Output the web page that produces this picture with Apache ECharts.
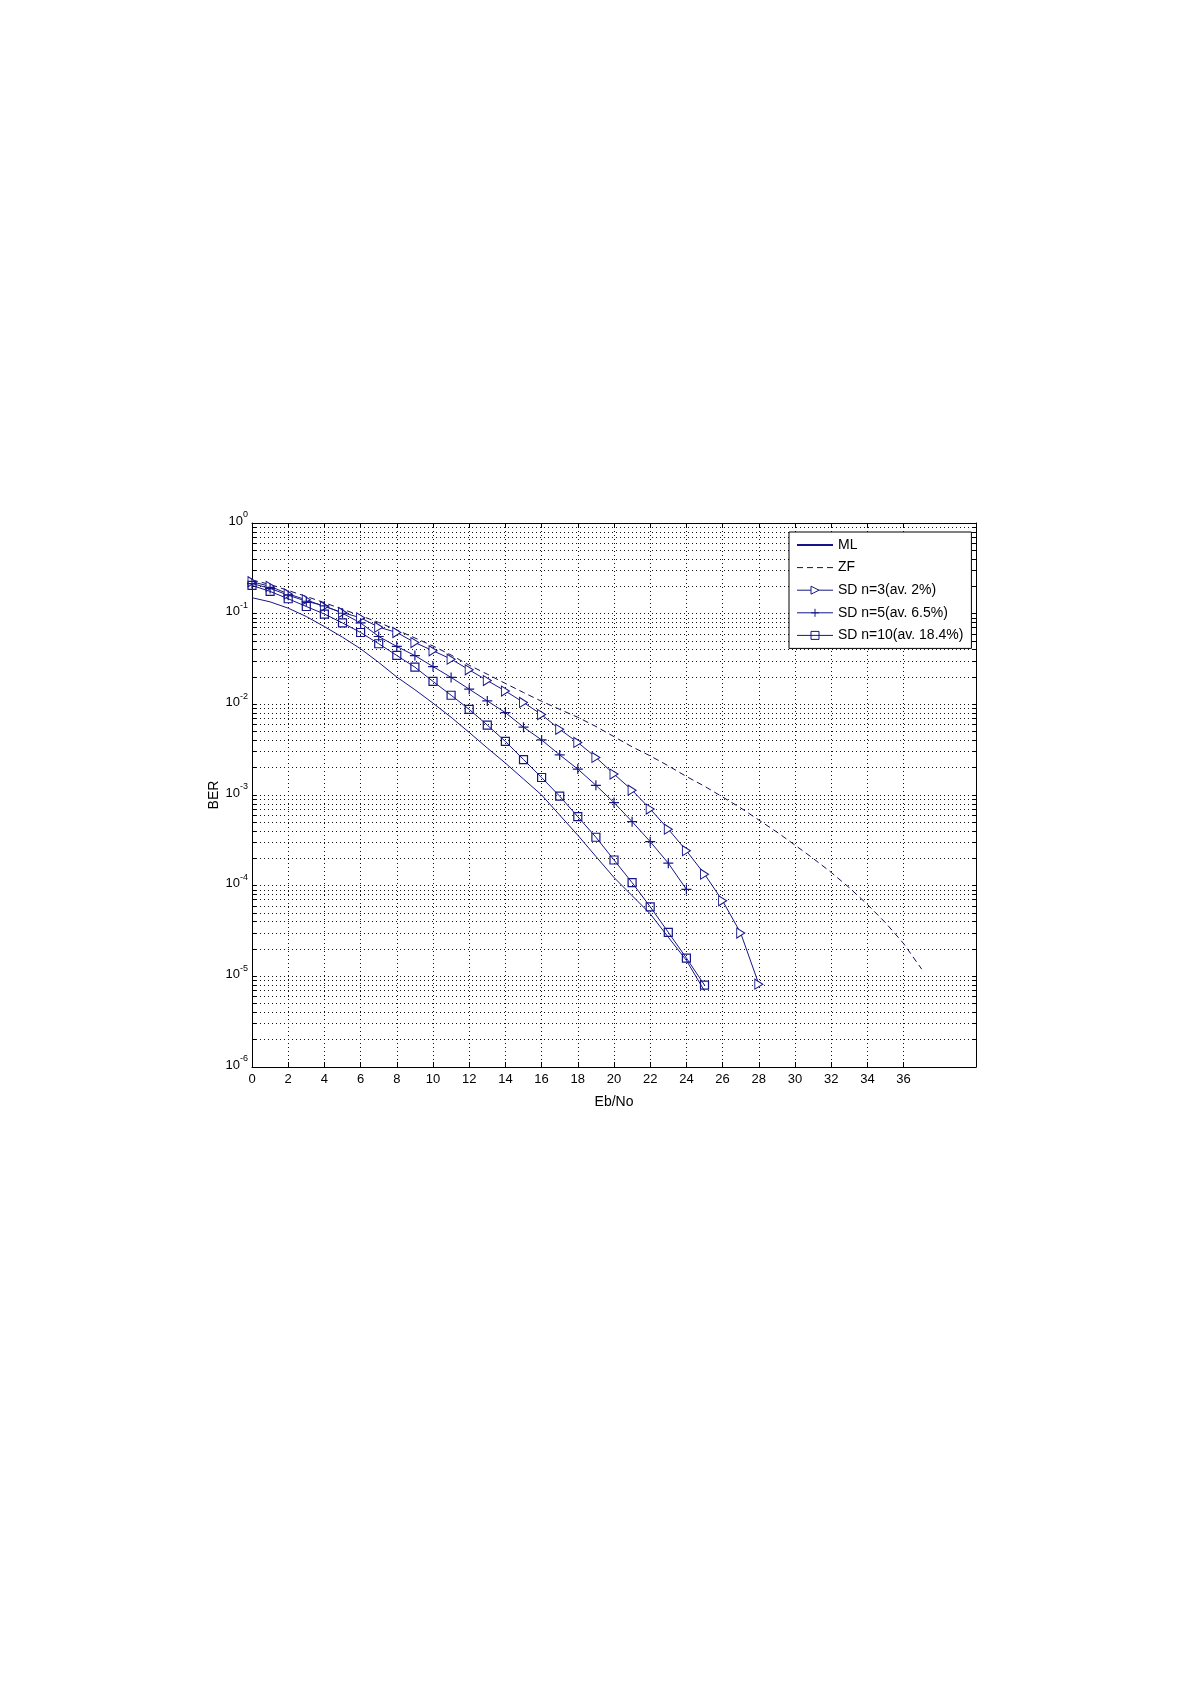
<!DOCTYPE html>
<html lang="en">
<head>
<meta charset="UTF-8" />
<title>BER vs Eb/No</title>
<script src="https://cdn.jsdelivr.net/npm/echarts@6.0.0/dist/echarts.min.js"></script>
<style>
  html, body { margin: 0; padding: 0; background: #fff; }
  #ber { width: 1191px; height: 1685px; }
</style>
</head>
<body>
<div id="ber"></div>
<script>
  // Eb/No points (dB)
  var ebno = [0, 1, 2, 3, 4, 5, 6, 7, 8, 9, 10, 11, 12, 13, 14, 15, 16, 17, 18, 19,
    20, 21, 22, 23, 24, 25, 26, 27, 28, 29, 30, 31, 32, 33, 34, 35, 36, 37];

  // BER
  var berML = [0.150, 0.135, 0.115, 0.093, 0.072, 0.055, 0.041, 0.029, 0.020, 0.0145,
    0.0103, 0.0072, 0.0049, 0.0033, 0.00225, 0.0015, 0.0010, 0.00060, 0.00036, 0.00021,
    0.000123, 0.0000776, 0.000049, 0.000027, 0.000015, 0.0000069];
  var berZF = [0.235, 0.21, 0.18, 0.155, 0.132, 0.112, 0.095, 0.08, 0.066, 0.054,
    0.044, 0.035, 0.027, 0.0215, 0.017, 0.0135, 0.0108, 0.0088, 0.0072, 0.0057,
    0.0044, 0.0034, 0.0027, 0.0021, 0.0016, 0.00125, 0.00095, 0.00072, 0.00053, 0.00039,
    0.00028, 0.0002, 0.00014, 0.000095, 0.000062, 0.000039, 0.000023, 0.000012];
  var berSD3 = [0.225, 0.20, 0.165, 0.142, 0.12, 0.103, 0.09, 0.071, 0.062, 0.048,
    0.039, 0.0315, 0.024, 0.0183, 0.014, 0.0105, 0.0077, 0.0053, 0.0038, 0.0026,
    0.0017, 0.00113, 0.0007, 0.00042, 0.000243, 0.000134, 0.000068, 0.00003, 0.0000082];
  var berSD5 = [0.215, 0.19, 0.16, 0.137, 0.122, 0.101, 0.079, 0.056, 0.0435, 0.0345,
    0.0261, 0.0198, 0.0147, 0.0109, 0.0081, 0.0056, 0.00405, 0.00277, 0.00193, 0.00128,
    0.000824, 0.000508, 0.000306, 0.000177, 0.000091];
  var berSD10 = [0.205, 0.176, 0.146, 0.12, 0.099, 0.079, 0.062, 0.0466, 0.0346, 0.0257,
    0.0179, 0.0126, 0.0088, 0.0059, 0.0039, 0.00246, 0.00156, 0.00097, 0.000576, 0.000342,
    0.000192, 0.000108, 0.0000585, 0.0000306, 0.0000159, 0.0000080];

  var seriesNames = ['ML', 'ZF', 'SD n=3(av. 2%)', 'SD n=5(av. 6.5%)', 'SD n=10(av. 18.4%)'];

  // tick labels
  var xTicks = [0, 2, 4, 6, 8, 10, 12, 14, 16, 18, 20, 22, 24, 26, 28, 30, 32, 34, 36];
  var yDecades = [1e-6, 1e-5, 1e-4, 1e-3, 1e-2, 1e-1, 1];

  // minor grid of the log axis: 1..9 x each decade
  var yGrid = [];
  yDecades.forEach(function (d) {
    for (var k = 1; k <= 9; k++) {
      if (d * k <= 1.0000001) yGrid.push(d * k);
    }
  });

  var navy = '#16168a';
  var font = "'Liberation Sans', Arial, sans-serif";

  function pairs(ys) {
    return ys.map(function (v, i) { return [ebno[i], v]; });
  }

  function expLabel(v) {
    var e = Math.round(Math.log10(v));
    return '{b|10}{e|' + e + '}';
  }

  var dotted = { color: '#111', width: 1, type: [1, 3] };
  var frame = { show: true, onZero: false, lineStyle: { color: '#000', width: 1 } };
  // line-only series: keep a symbol but make it invisible (also in the legend)
  var noMark = { color: 'rgba(0,0,0,0)', borderWidth: 0 };

  var chart = echarts.init(document.getElementById('ber'), null, { renderer: 'canvas' });

  chart.setOption({
    animation: false,
    backgroundColor: '#fff',
    textStyle: { fontFamily: font },
    grid: { left: 252, top: 523, width: 724, height: 544, containLabel: false },
    legend: {
      left: 789,
      top: 532,
      orient: 'vertical',
      data: [
        { name: seriesNames[0], lineStyle: { width: 2 } },
        seriesNames[1], seriesNames[2], seriesNames[3], seriesNames[4]
      ],
      backgroundColor: '#fff',
      borderColor: '#000',
      borderWidth: 1,
      borderRadius: 0,
      padding: [5, 8, 5, 7],
      itemWidth: 36,
      itemHeight: 10,
      itemGap: 6.6,
      selectedMode: false,
      lineStyle: { width: 1 },
      itemStyle: { borderWidth: 1 },
      textStyle: { fontSize: 14, lineHeight: 16, color: '#000', fontFamily: font }
    },
    xAxis: [{
      type: 'value',
      min: 0,
      max: 40,
      name: 'Eb/No',
      nameLocation: 'middle',
      nameGap: 28,
      nameMoveOverlap: false,
      nameTextStyle: { fontSize: 14, color: '#000', fontFamily: font },
      axisLine: frame,
      axisTick: { show: true, inside: true, length: 5, lineStyle: { color: '#000' }, customValues: xTicks },
      axisLabel: { customValues: xTicks, margin: 6, fontSize: 13, color: '#000', fontFamily: font },
      splitLine: { show: true, lineStyle: dotted }
    }, {
      type: 'value',
      min: 0,
      max: 40,
      position: 'top',
      axisLine: frame,
      axisTick: { show: true, inside: true, length: 5, lineStyle: { color: '#000' }, customValues: xTicks },
      axisLabel: { show: false },
      splitLine: { show: false }
    }],
    yAxis: [{
      type: 'log',
      logBase: 10,
      min: 1e-6,
      max: 1,
      name: 'BER',
      nameLocation: 'middle',
      nameGap: 31,
      nameMoveOverlap: false,
      nameTextStyle: { fontSize: 14, color: '#000', fontFamily: font },
      axisLine: frame,
      axisTick: { show: true, inside: true, length: 4, lineStyle: { color: '#000' }, customValues: yGrid },
      axisLabel: {
        customValues: yDecades,
        margin: 4,
        padding: [0, 0, 4, 0],
        formatter: expLabel,
        rich: {
          b: { fontSize: 13, lineHeight: 13, color: '#000', fontFamily: font, verticalAlign: 'bottom' },
          e: { fontSize: 9, lineHeight: 9, color: '#000', fontFamily: font, verticalAlign: 'bottom', padding: [0, 0, 8, 0] }
        }
      },
      splitLine: { show: true, lineStyle: dotted }
    }, {
      type: 'log',
      logBase: 10,
      min: 1e-6,
      max: 1,
      position: 'right',
      axisLine: frame,
      axisTick: { show: true, inside: true, length: 4, lineStyle: { color: '#000' }, customValues: yGrid },
      axisLabel: { show: false },
      splitLine: { show: false }
    }],
    series: [{
      name: seriesNames[0],
      type: 'line',
      data: pairs(berML),
      symbol: 'circle',
      showSymbol: false,
      lineStyle: { color: navy, width: 1 },
      itemStyle: noMark
    }, {
      name: seriesNames[1],
      type: 'line',
      data: pairs(berZF),
      symbol: 'circle',
      showSymbol: false,
      lineStyle: { color: '#10105a', width: 1, type: [6, 4] },
      itemStyle: noMark
    }, {
      name: seriesNames[2],
      type: 'line',
      data: pairs(berSD3),
      symbol: 'triangle',
      symbolSize: [10, 8],
      symbolRotate: -90,
      showAllSymbol: true,
      lineStyle: { color: navy, width: 1 },
      itemStyle: { color: '#fff', borderColor: navy, borderWidth: 1 }
    }, {
      name: seriesNames[3],
      type: 'line',
      data: pairs(berSD5),
      symbol: 'path://M0,5L10,5M5,0L5,10',
      symbolSize: 10,
      showAllSymbol: true,
      lineStyle: { color: navy, width: 1 },
      itemStyle: { color: 'rgba(0,0,0,0)', borderColor: navy, borderWidth: 1.2 }
    }, {
      name: seriesNames[4],
      type: 'line',
      data: pairs(berSD10),
      symbol: 'rect',
      symbolSize: 8,
      showAllSymbol: true,
      lineStyle: { color: navy, width: 1 },
      itemStyle: { color: 'rgba(255,255,255,0)', borderColor: navy, borderWidth: 1.2 }
    }]
  });
</script>
</body>
</html>
